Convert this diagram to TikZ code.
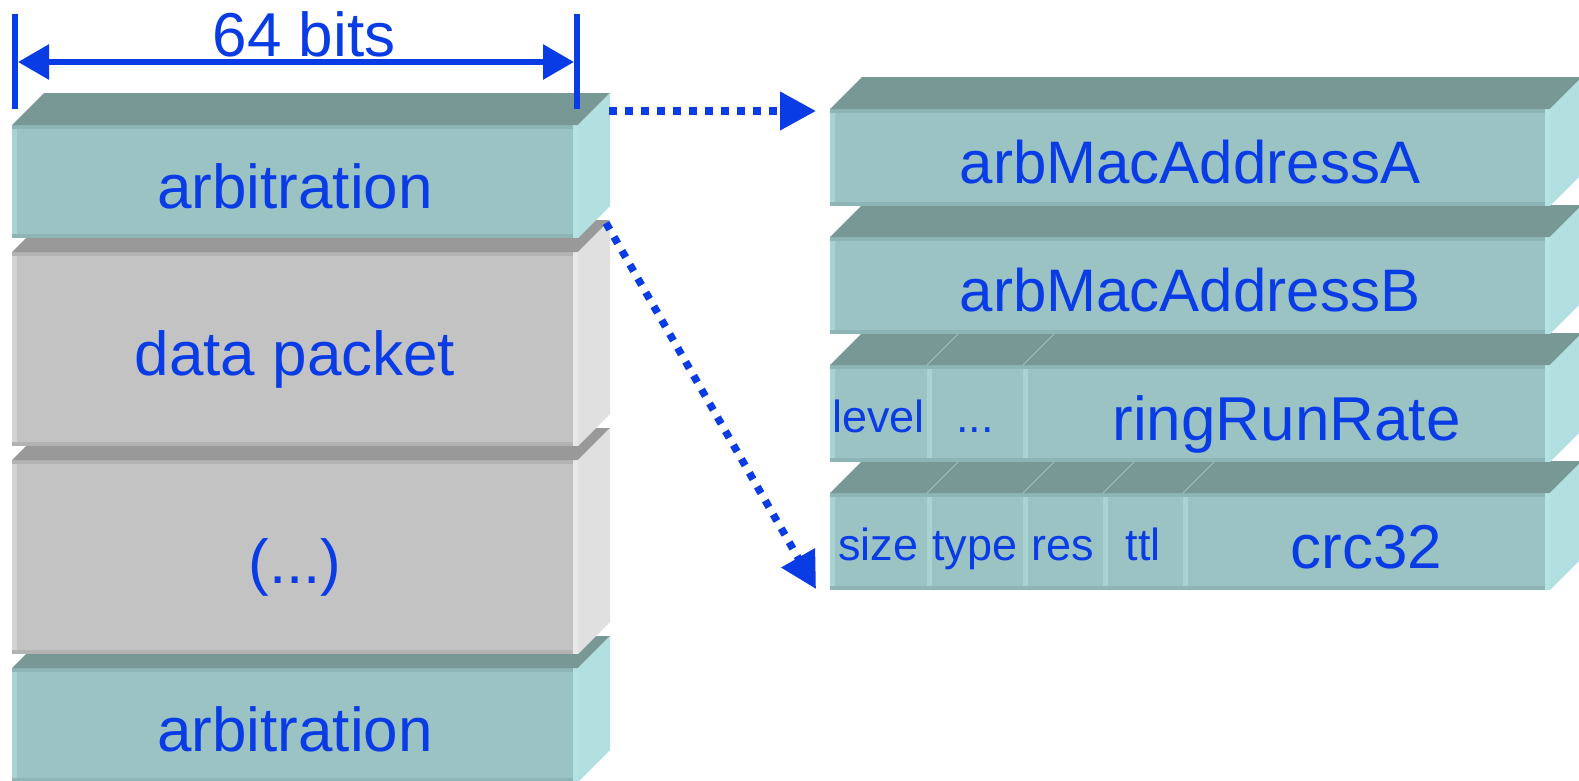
\documentclass[tikz,border=0pt]{standalone}
\usepackage{fontspec}
\setmainfont{Liberation Sans}
\usetikzlibrary{arrows.meta,calc}
\definecolor{txtblue}{HTML}{0A3CE6}
\definecolor{tfront}{HTML}{9BC3C3}
\definecolor{ttop}{HTML}{789896}
\definecolor{tside}{HTML}{B2E0E0}
\definecolor{tleft}{HTML}{A9D3D3}
\definecolor{tband}{HTML}{8DB5B5}
\definecolor{tright}{HTML}{B5E3E3}
\definecolor{gfront}{HTML}{C3C3C3}
\definecolor{gtop}{HTML}{999999}
\definecolor{gside}{HTML}{E0E0E0}
\definecolor{gleft}{HTML}{D3D3D3}
\definecolor{gband}{HTML}{B3B3B3}
\definecolor{gright}{HTML}{E8E8E8}
\definecolor{tedge}{HTML}{A3BDBD}
\newcommand\bigfont{\fontsize{62}{70}\selectfont}
\newcommand\midfont{\fontsize{60}{68}\selectfont}
\newcommand\smallfont{\fontsize{45}{52}\selectfont}
% top and side faces: #1 first node, #2 last node, #3 top colour, #4 side colour
\newcommand\topandside[4]{%
  \fill[#3] (#1.north west) -- ++(32,-32) -- ($(#2.north east)+(32,-32)$) -- (#2.north east) -- cycle;
  \fill[#4] (#2.north east) -- ++(32,-32) -- ($(#2.south east)+(32,-32)$) -- (#2.south east) -- cycle;}
% left strip and bands of a front face
\newcommand\bands[3]{%
  \fill[#2] (#1.north west) rectangle ($(#1.south west)+(5,0)$);
  \fill[#3] (#1.north west) rectangle ($(#1.north east)+(0,4)$);
  \fill[#3] ($(#1.south west)+(0,-4)$) rectangle (#1.south east);}
\newcommand\rstrip[2]{%
  \fill[#2] ($(#1.north east)+(-5,0)$) rectangle (#1.south east);}
\begin{document}
\begin{tikzpicture}[x=1pt,y=-1pt,
  cell/.style={anchor=north west, inner sep=0pt, outer sep=0pt, text=txtblue},
  teal/.style={fill=tfront},
  grey/.style={fill=gfront},
  bigtext/.style={font=\bigfont, text height=53pt, text depth=0pt},
  midtext/.style={font=\midfont, text height=52pt, text depth=0pt},
  smalltext/.style={font=\smallfont, text height=38pt, text depth=0pt},
  blueline/.style={draw=txtblue, line width=6pt},
  dotline/.style={draw=txtblue, line width=7.5pt, dash pattern=on 7.5pt off 8.5pt, -{Triangle[length=36pt,width=37pt]}},
  celledge/.style={draw=tedge, line width=0.8pt}
]
\clip (0,0) rectangle (1579,780);

% ---------------- left column (bottom to top) ----------------
\node[cell, teal, bigtext, minimum width=566pt, minimum height=114pt] (arb2) at (12,668) {arbitration};
\bands{arb2}{tleft}{tband}\rstrip{arb2}{tright}
\topandside{arb2}{arb2}{ttop}{tside}

\node[cell, grey, bigtext, minimum width=566pt, minimum height=194pt] (etc) at (12,460) {(...)};
\bands{etc}{gleft}{gband}\rstrip{etc}{gright}
\topandside{etc}{etc}{gtop}{gside}

\node[cell, grey, bigtext, minimum width=566pt, minimum height=194pt] (data) at (12,252) {data packet};
\bands{data}{gleft}{gband}\rstrip{data}{gright}
\topandside{data}{data}{gtop}{gside}

\node[cell, teal, bigtext, minimum width=566pt, minimum height=113pt] (arb1) at (12,125) {arbitration};
\bands{arb1}{tleft}{tband}\rstrip{arb1}{tright}
\topandside{arb1}{arb1}{ttop}{tside}

% ---------------- right column (bottom to top) ----------------
\node[cell, teal, smalltext, minimum width=97pt, minimum height=97pt] (size) at (830,493) {size};
\node[cell, teal, smalltext, minimum width=96pt, minimum height=97pt] (type) at (927,493) {type};
\node[cell, teal, smalltext, minimum width=80pt, minimum height=97pt] (res) at (1023,493) {res};
\node[cell, teal, smalltext, minimum width=80pt, minimum height=97pt] (ttl) at (1103,493) {ttl};
\node[cell, teal, bigtext, minimum width=367pt, minimum height=97pt] (crc) at (1183,493) {crc32};
\foreach \c in {size,type,res,ttl,crc} {\bands{\c}{tleft}{tband}}
\rstrip{crc}{tright}
\topandside{size}{crc}{ttop}{tside}
\foreach \c in {type,res,ttl,crc} {\draw[celledge] (\c.north west) -- ++(32,-32);}

\node[cell, teal, smalltext, minimum width=97pt, minimum height=97pt] (level) at (830,365) {level};
\node[cell, teal, smalltext, minimum width=96pt, minimum height=97pt] (more) at (927,365) {...};
\node[cell, teal, bigtext, minimum width=527pt, minimum height=97pt] (rate) at (1023,365) {ringRunRate};
\foreach \c in {level,more,rate} {\bands{\c}{tleft}{tband}}
\rstrip{rate}{tright}
\topandside{level}{rate}{ttop}{tside}
\foreach \c in {more,rate} {\draw[celledge] (\c.north west) -- ++(32,-32);}

\node[cell, teal, midtext, minimum width=720pt, minimum height=97pt] (macB) at (830,237) {arbMacAddressB};
\bands{macB}{tleft}{tband}\rstrip{macB}{tright}
\topandside{macB}{macB}{ttop}{tside}

\node[cell, teal, midtext, minimum width=720pt, minimum height=97pt] (macA) at (830,109) {arbMacAddressA};
\bands{macA}{tleft}{tband}\rstrip{macA}{tright}
\topandside{macA}{macA}{ttop}{tside}

% ---------------- dimension ----------------
\coordinate (tLa) at (15,14);
\coordinate (tLb) at (15,109);
\coordinate (tRa) at (577,14);
\coordinate (tRb) at (577,109);
\coordinate (dL) at (18,62);
\coordinate (dR) at (574,62);
\draw[blueline] (tLa) -- (tLb);
\draw[blueline] (tRa) -- (tRb);
\draw[blueline, {Triangle[length=31pt,width=34pt]}-{Triangle[length=31pt,width=34pt]}] (dL) -- (dR);
\node[font=\bigfont, text=txtblue, anchor=base, inner sep=0pt] (bits) at (304,56) {64 bits};

% ---------------- dotted arrows ----------------
\coordinate (d1s) at (609,111);
\coordinate (d1e) at (816,111);
\coordinate (d2s) at (606,223);
\coordinate (d2e) at (816,589);
\draw[dotline] (d1s) -- (d1e);
\draw[dotline] (d2s) -- (d2e);
\end{tikzpicture}
\end{document}
